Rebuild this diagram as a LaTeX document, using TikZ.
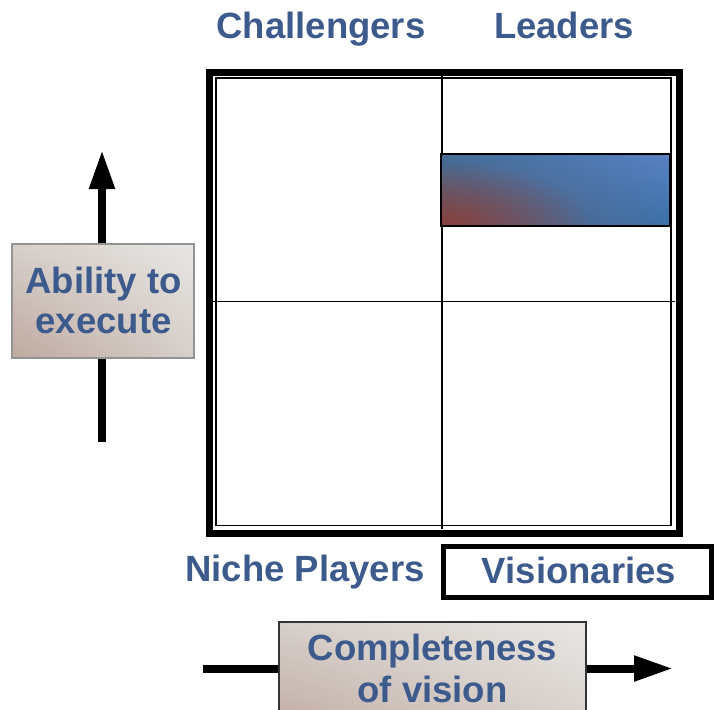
\documentclass[tikz,border=0pt]{standalone}
\usepackage{fontspec}
\setmainfont{Liberation Sans}
\usetikzlibrary{arrows.meta,shadings,fadings}
\definecolor{lblue}{HTML}{3C5A8C}
\definecolor{tanL}{HTML}{E8E6E3}
\definecolor{tanD}{HTML}{BFA9A0}
\definecolor{tanM}{HTML}{D6CFCA}
\definecolor{bUR}{RGB}{88,130,196}
\definecolor{bUL}{RGB}{66,108,150}
\definecolor{bLR}{RGB}{58,112,168}
\definecolor{bLL}{RGB}{98,96,118}
\definecolor{bRed}{RGB}{140,60,52}
\tikzfading[name=cornerfade, inner color=transparent!10, outer color=transparent!100]
\tikzset{
  lbl/.style={text=lblue, font=\fontsize{36.5}{42}\selectfont\bfseries, inner sep=0pt, anchor=base},
  tanbox/.style={upper right=tanL, lower left=tanD, upper left=tanM, lower right=tanM},
  bigarrow/.style={line width=8pt, -{Triangle[length=39pt,width=24pt]}},
  thinline/.style={line width=1.8pt},
}
\begin{document}
\begin{tikzpicture}[x=1pt,y=-1pt]
\useasboundingbox (0,0) rectangle (714,709);
% frame
\draw[line width=7pt] (209.5,72.5) rectangle (679,533);
\draw[thinline] (216,78) rectangle (671,525.5);
\draw[thinline] (442,76) -- (442,529);
\draw[thinline] (213,301.5) -- (675,301.5);
% leaders bar
\shade[upper right=bUR, upper left=bUL, lower right=bLR, lower left=bLL] (441,154) rectangle (670,226);
\begin{scope}
  \clip (441,154) rectangle (670,226);
  \fill[bRed, path fading=cornerfade] (441,226) ellipse (150pt and 65pt);
\end{scope}
\draw[line width=2pt] (441,154) rectangle (670,226);
% quadrant labels
\node[lbl] (chal) at (321,39) {Challengers};
\node[lbl] (lead) at (564,39) {Leaders};
\node[lbl] (niche) at (305,581.5) {Niche Players};
\node[draw=black, line width=5pt, minimum width=268pt, minimum height=51pt, inner sep=0pt] (visbox) at (577,571.5) {};
\node[lbl] (vis) at (579,583) {Visionaries};
% vertical axis
\coordinate (ybot) at (102,442);
\coordinate (ytop) at (102,150);
\draw[bigarrow] (ybot) -- (ytop);
\shade[tanbox] (12,244) rectangle (194,358);
\draw[gray!85, line width=2pt] (12,244) rectangle (194,358);
\node[lbl] (abil1) at (103.5,293) {Ability to};
\node[lbl] (abil2) at (103.5,333.5) {execute};
% horizontal axis
\coordinate (xl) at (203,668.5);
\coordinate (xr) at (673,668.5);
\draw[bigarrow] (xl) -- (xr);
\shade[tanbox] (279,622) rectangle (586,740);
\draw[black!80, line width=2pt] (279,622) rectangle (586,740);
\node[lbl] (comp1) at (432.5,660) {Completeness};
\node[lbl] (comp2) at (432.5,702.5) {of vision};
\end{tikzpicture}
\end{document}
